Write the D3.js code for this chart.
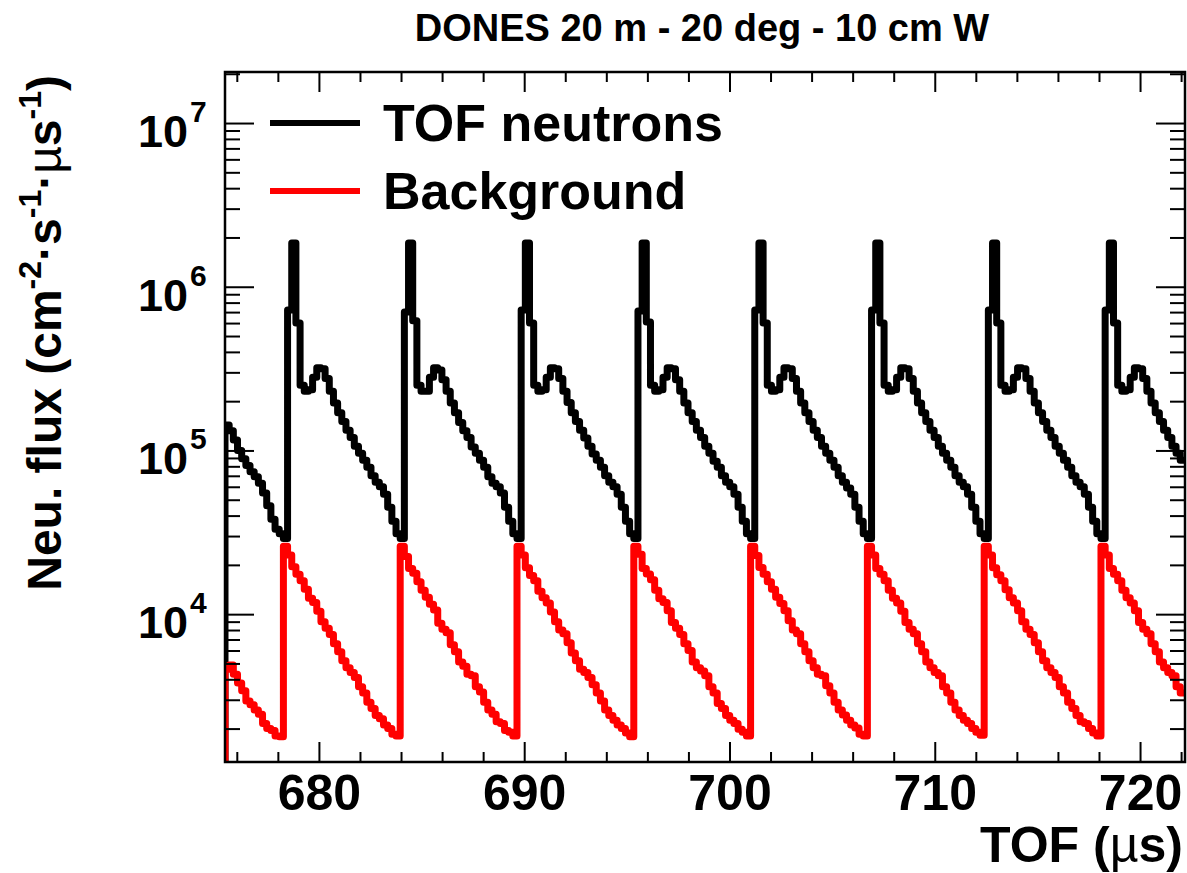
<!DOCTYPE html>
<meta charset="utf-8">
<script src="https://d3js.org/d3.v7.min.js"></script>
<style>
  body { margin: 0; background: #fff; }
  text { font-family: "Liberation Sans", Arial, Helvetica, sans-serif; font-weight: bold; }
</style>
<div id="my_dataviz"></div>
<script>

// histogram binning (TOF in microseconds)
var binStart = 675.425, binWidth = 0.2032;
var xMin = 675.425, xMax = 722.19;
var yMin = 1250, yMax = 2.05e7;

// TOF neutrons, one value per bin
var tofNeutrons = [
  // tail of the pulse before the window
  1.43e5, 1.32e5, 1.16e5, 1.0e5, 8.9e4, 8.1e4, 7.4e4, 6.9e4, 6.3e4, 5.5e4, 4.6e4, 3.8e4, 3.3e4, 3.1e4,
  // pulse 1
  2.9e4, 7.2e5, 1.85e6, 6.0e5, 2.5e5, 2.3e5, 2.35e5, 2.8e5, 3.2e5, 3.15e5, 2.75e5, 2.3e5, 1.95e5, 1.7e5,
  1.5e5, 1.33e5, 1.2e5, 1.06e5, 9.6e4, 8.7e4, 7.9e4, 7.0e4, 6.4e4, 6.0e4, 5.4e4, 4.5e4, 3.7e4, 3.1e4,
  // pulse 2
  2.9e4, 7.0e5, 1.85e6, 6.2e5, 2.5e5, 2.3e5, 2.3e5, 2.8e5, 3.2e5, 3.1e5, 2.7e5, 2.3e5, 1.95e5, 1.7e5,
  1.48e5, 1.32e5, 1.2e5, 1.05e5, 9.6e4, 8.7e4, 7.9e4, 6.9e4, 6.3e4, 6.0e4, 5.5e4, 4.5e4, 3.7e4, 3.1e4,
  // pulse 3
  2.9e4, 7.2e5, 1.85e6, 6.0e5, 2.5e5, 2.3e5, 2.35e5, 2.8e5, 3.2e5, 3.15e5, 2.75e5, 2.3e5, 1.96e5, 1.7e5,
  1.5e5, 1.33e5, 1.19e5, 1.06e5, 9.5e4, 8.7e4, 7.9e4, 7.0e4, 6.4e4, 6.0e4, 5.4e4, 4.5e4, 3.7e4, 3.1e4,
  // pulse 4
  2.9e4, 7.1e5, 1.85e6, 6.1e5, 2.5e5, 2.3e5, 2.35e5, 2.8e5, 3.2e5, 3.15e5, 2.7e5, 2.3e5, 1.95e5, 1.7e5,
  1.5e5, 1.33e5, 1.2e5, 1.06e5, 9.6e4, 8.6e4, 7.9e4, 7.0e4, 6.4e4, 6.0e4, 5.4e4, 4.5e4, 3.7e4, 3.1e4,
  // pulse 5
  2.9e4, 7.2e5, 1.85e6, 6.0e5, 2.5e5, 2.3e5, 2.35e5, 2.8e5, 3.2e5, 3.15e5, 2.75e5, 2.3e5, 1.95e5, 1.7e5,
  1.5e5, 1.33e5, 1.2e5, 1.06e5, 9.6e4, 8.7e4, 7.9e4, 7.0e4, 6.4e4, 5.9e4, 5.4e4, 4.5e4, 3.7e4, 3.1e4,
  // pulse 6
  2.9e4, 7.2e5, 1.85e6, 6.0e5, 2.5e5, 2.3e5, 2.35e5, 2.8e5, 3.2e5, 3.15e5, 2.75e5, 2.3e5, 1.95e5, 1.7e5,
  1.5e5, 1.33e5, 1.2e5, 1.06e5, 9.6e4, 8.7e4, 7.9e4, 7.0e4, 6.4e4, 6.0e4, 5.4e4, 4.5e4, 3.7e4, 3.1e4,
  // pulse 7
  2.9e4, 7.2e5, 1.85e6, 6.0e5, 2.5e5, 2.3e5, 2.35e5, 2.8e5, 3.2e5, 3.15e5, 2.75e5, 2.3e5, 1.95e5, 1.7e5,
  1.5e5, 1.33e5, 1.2e5, 1.06e5, 9.6e4, 8.7e4, 7.9e4, 7.0e4, 6.4e4, 6.0e4, 5.4e4, 4.5e4, 3.7e4, 3.1e4,
  // pulse 8 (cut by the frame)
  2.9e4, 7.2e5, 1.85e6, 6.0e5, 2.5e5, 2.3e5, 2.35e5, 2.8e5, 3.2e5, 3.15e5, 2.75e5, 2.3e5, 1.95e5, 1.7e5,
  1.5e5, 1.33e5, 1.2e5, 1.06e5, 9.6e4, 8.7e4
];

// Background, one value per bin
var background = [
  4.6e3, 4.9e3, 4.3e3, 3.8e3, 3.4e3, 2.95e3, 2.8e3, 2.6e3, 2.45e3, 2.15e3, 2.0e3, 1.95e3, 1.8e3, 1.78e3,
  // pulse 1
  2.6e4, 2.3e4, 1.95e4, 1.75e4, 1.6e4, 1.42e4, 1.25e4, 1.18e4, 1.04e4, 9.0e3, 8.2e3, 7.5e3, 6.6e3, 5.9e3,
  5.2e3, 4.7e3, 4.4e3, 4.1e3, 3.6e3, 3.3e3, 2.9e3, 2.65e3, 2.4e3, 2.3e3, 2.1e3, 2.0e3, 1.85e3, 1.8e3,
  // pulse 2
  2.6e4, 2.25e4, 1.9e4, 1.78e4, 1.58e4, 1.4e4, 1.27e4, 1.15e4, 1.06e4, 8.8e3, 8.1e3, 7.7e3, 6.5e3, 5.9e3,
  5.1e3, 4.8e3, 4.3e3, 4.2e3, 3.6e3, 3.35e3, 2.9e3, 2.6e3, 2.45e3, 2.2e3, 2.15e3, 1.95e3, 1.9e3, 1.8e3,
  // pulse 3
  2.6e4, 2.3e4, 1.92e4, 1.72e4, 1.6e4, 1.38e4, 1.26e4, 1.17e4, 1.03e4, 9.0e3, 8.0e3, 7.6e3, 6.7e3, 5.8e3,
  5.2e3, 4.6e3, 4.4e3, 4.1e3, 3.7e3, 3.3e3, 2.95e3, 2.6e3, 2.4e3, 2.25e3, 2.1e3, 2.0e3, 1.88e3, 1.78e3,
  // pulse 4
  2.6e4, 2.32e4, 1.9e4, 1.76e4, 1.62e4, 1.4e4, 1.24e4, 1.18e4, 1.05e4, 8.9e3, 8.2e3, 7.5e3, 6.6e3, 6.0e3,
  5.1e3, 4.7e3, 4.5e3, 4.2e3, 3.6e3, 3.3e3, 2.85e3, 2.65e3, 2.4e3, 2.25e3, 2.15e3, 1.98e3, 1.9e3, 1.8e3,
  // pulse 5
  2.6e4, 2.28e4, 1.93e4, 1.75e4, 1.58e4, 1.42e4, 1.27e4, 1.16e4, 1.05e4, 9.1e3, 8.0e3, 7.6e3, 6.6e3, 5.9e3,
  5.2e3, 4.7e3, 4.3e3, 4.2e3, 3.65e3, 3.3e3, 2.9e3, 2.6e3, 2.42e3, 2.25e3, 2.1e3, 2.02e3, 1.85e3, 1.8e3,
  // pulse 6
  2.6e4, 2.3e4, 1.9e4, 1.75e4, 1.6e4, 1.4e4, 1.25e4, 1.17e4, 1.04e4, 8.9e3, 8.1e3, 7.6e3, 6.6e3, 5.9e3,
  5.1e3, 4.7e3, 4.4e3, 4.2e3, 3.6e3, 3.3e3, 2.9e3, 2.6e3, 2.4e3, 2.25e3, 2.15e3, 2.0e3, 1.9e3, 1.82e3,
  // pulse 7
  2.6e4, 2.3e4, 1.92e4, 1.74e4, 1.6e4, 1.41e4, 1.26e4, 1.17e4, 1.05e4, 9.0e3, 8.1e3, 7.5e3, 6.7e3, 5.9e3,
  5.2e3, 4.7e3, 4.4e3, 4.1e3, 3.6e3, 3.3e3, 2.9e3, 2.65e3, 2.4e3, 2.2e3, 2.15e3, 2.0e3, 1.88e3, 1.8e3,
  // pulse 8 (cut by the frame)
  2.6e4, 2.3e4, 1.9e4, 1.75e4, 1.6e4, 1.4e4, 1.26e4, 1.17e4, 1.05e4, 8.9e3, 8.1e3, 7.6e3, 6.6e3, 5.9e3,
  5.1e3, 4.7e3, 4.4e3, 4.2e3, 3.6e3, 3.3e3
];

var xMajorTicks = [680, 690, 700, 710, 720];
var xMinorTicks = [676, 678, 682, 684, 686, 688, 692, 694, 696, 698, 702, 704, 706, 708, 712, 714, 716, 718, 722];
var yMajorTicks = [1e4, 1e5, 1e6, 1e7];
var yMajorExponents = ["4", "5", "6", "7"];
var seriesNames = ["TOF neutrons", "Background"];
var seriesColors = ["#000000", "#ff0000"];

var W = 1187, H = 873;
var frame = {left: 225, top: 72, right: 1185, bottom: 762};

var svg = d3.select("#my_dataviz")
  .append("svg")
    .attr("width", W)
    .attr("height", H);

var x = d3.scaleLinear().domain([xMin, xMax]).range([frame.left, frame.right]);
var y = d3.scaleLog().domain([yMin, yMax]).range([frame.bottom, frame.top]);

// minor log ticks 2..9 per decade
var yMinorTicks = [];
[1e3, 1e4, 1e5, 1e6, 1e7].forEach(function(d) {
  for (var k = 2; k <= 9; k++) {
    var v = k * d;
    if (v > yMin && v < yMax) yMinorTicks.push(v);
  }
});

// clip for the histograms
svg.append("clipPath").attr("id", "clip")
  .append("rect")
    .attr("x", frame.left).attr("y", frame.top)
    .attr("width", frame.right - frame.left)
    .attr("height", frame.bottom - frame.top);

function histPoints(values) {
  var pts = [[binStart, yMin]];
  values.forEach(function(v, i) { pts.push([binStart + i * binWidth, v]); });
  pts.push([binStart + values.length * binWidth, values[values.length - 1]]);
  return pts;
}

var line = d3.line()
  .x(function(d) { return x(d[0]); })
  .y(function(d) { return y(Math.max(d[1], yMin)); })
  .curve(d3.curveStepAfter);

var histG = svg.append("g").attr("clip-path", "url(#clip)");
[tofNeutrons, background].forEach(function(vals, i) {
  histG.append("path")
    .datum(histPoints(vals))
    .attr("d", line)
    .style("fill", "none")
    .style("stroke", seriesColors[i])
    .style("stroke-width", "7px")
    .style("stroke-linejoin", "round");
});

// axes (ticks inward, like ROOT)
function styleAxis(g) {
  g.select(".domain").remove();
  g.selectAll(".tick line").attr("stroke", "#000").attr("stroke-width", 2);
}

svg.append("g").attr("transform", "translate(0," + frame.bottom + ")")
  .call(d3.axisBottom(x).tickValues(xMinorTicks).tickSize(-10).tickFormat(""))
  .call(styleAxis);
var xAxisG = svg.append("g").attr("transform", "translate(0," + frame.bottom + ")")
  .call(d3.axisBottom(x).tickValues(xMajorTicks).tickSize(-20).tickFormat(d3.format("d")))
  .call(styleAxis);
xAxisG.selectAll("text")
  .attr("y", 48).attr("dy", 0)
  .attr("fill", "#000")
  .style("font-size", "50px");

svg.append("g").attr("transform", "translate(0," + frame.top + ")")
  .call(d3.axisTop(x).tickValues(xMinorTicks).tickSize(-10).tickFormat(""))
  .call(styleAxis);
svg.append("g").attr("transform", "translate(0," + frame.top + ")")
  .call(d3.axisTop(x).tickValues(xMajorTicks).tickSize(-20).tickFormat(""))
  .call(styleAxis);

svg.append("g").attr("transform", "translate(" + frame.left + ",0)")
  .call(d3.axisLeft(y).tickValues(yMinorTicks).tickSize(-15).tickFormat(""))
  .call(styleAxis);
svg.append("g").attr("transform", "translate(" + frame.left + ",0)")
  .call(d3.axisLeft(y).tickValues(yMajorTicks).tickSize(-29).tickFormat(""))
  .call(styleAxis);
svg.append("g").attr("transform", "translate(" + frame.right + ",0)")
  .call(d3.axisRight(y).tickValues(yMinorTicks).tickSize(-15).tickFormat(""))
  .call(styleAxis);
svg.append("g").attr("transform", "translate(" + frame.right + ",0)")
  .call(d3.axisRight(y).tickValues(yMajorTicks).tickSize(-29).tickFormat(""))
  .call(styleAxis);

// y tick labels 10^n
yMajorTicks.forEach(function(v, i) {
  svg.append("text")
    .attr("x", 188)
    .attr("y", y(v) + 24)
    .attr("text-anchor", "end")
    .style("font-size", "45px")
    .text("10");
  svg.append("text")
    .attr("x", 190)
    .attr("y", y(v) - 1)
    .style("font-size", "30px")
    .text(yMajorExponents[i]);
});

// frame
svg.append("rect")
  .attr("x", frame.left).attr("y", frame.top)
  .attr("width", frame.right - frame.left)
  .attr("height", frame.bottom - frame.top)
  .attr("fill", "none")
  .attr("stroke", "#000")
  .attr("stroke-width", 2.5);

// title
svg.append("text")
  .attr("x", 702)
  .attr("y", 41)
  .attr("text-anchor", "middle")
  .style("font-size", "38px")
  .text("DONES 20 m - 20 deg - 10 cm W");

// x axis title
var xt = svg.append("text")
  .attr("x", 1183)
  .attr("y", 862)
  .attr("text-anchor", "end")
  .style("font-size", "50px");
xt.append("tspan").text("TOF (");
xt.append("tspan").style("font-weight", "normal").text("\u00b5");
xt.append("tspan").text("s)");

// y axis title
var yt = svg.append("text")
  .attr("transform", "translate(61,75) rotate(-90)")
  .attr("text-anchor", "end")
  .style("font-size", "48px");
yt.append("tspan").text("Neu. flux (cm");
yt.append("tspan").attr("dy", -20).style("font-size", "32px").text("-2");
yt.append("tspan").attr("dy", 20).text("\u00b7s");
yt.append("tspan").attr("dy", -20).style("font-size", "32px").text("-1");
yt.append("tspan").attr("dy", 20).text("\u00b7");
yt.append("tspan").style("font-weight", "normal").text("\u00b5");
yt.append("tspan").text("s");
yt.append("tspan").attr("dy", -20).style("font-size", "32px").text("-1");
yt.append("tspan").attr("dy", 20).text(")");

// legend
seriesNames.forEach(function(name, i) {
  var ly = 123 + i * 68;
  svg.append("line")
    .attr("x1", 270).attr("x2", 360)
    .attr("y1", ly).attr("y2", ly)
    .attr("stroke", seriesColors[i])
    .attr("stroke-width", 6);
  svg.append("text")
    .attr("x", 383)
    .attr("y", ly + 18)
    .style("font-size", "52px")
    .text(name);
});

</script>
